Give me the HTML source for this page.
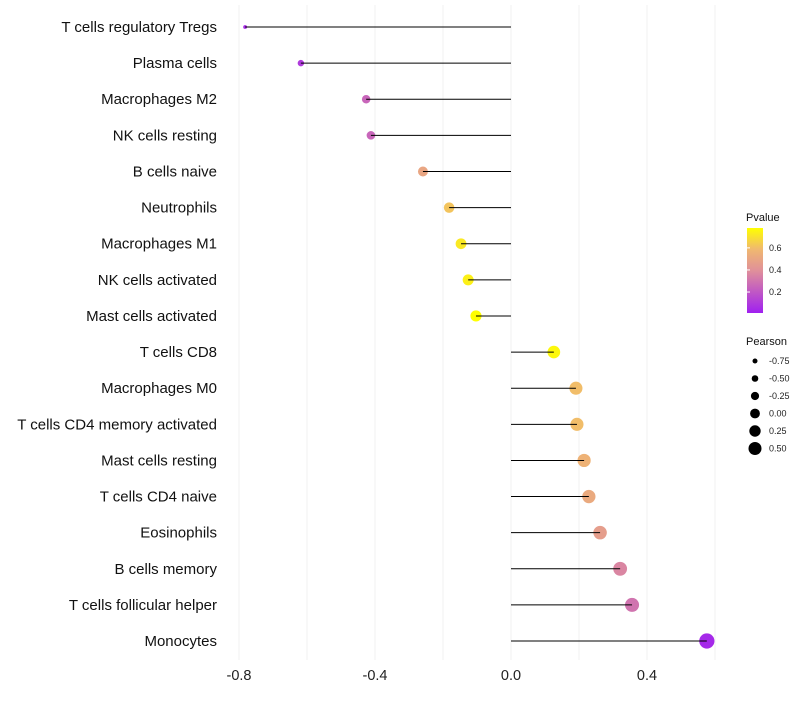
<!DOCTYPE html>
<html><head><meta charset="utf-8"><style>
body{margin:0;background:#fff;font-family:"Liberation Sans",sans-serif}
</style></head><body>
<svg id="c" width="800" height="700" xmlns="http://www.w3.org/2000/svg">
<defs><linearGradient id="pg" x1="0" y1="1" x2="0" y2="0">
<stop offset="0" stop-color="#a020f0"/><stop offset="0.5" stop-color="#e0909a"/><stop offset="0.75" stop-color="#f0b870"/><stop offset="1" stop-color="#ffff00"/>
</linearGradient></defs>
</svg>
<script>
const categories=["T cells regulatory  Tregs","Plasma cells","Macrophages M2","NK cells resting","B cells naive","Neutrophils","Macrophages M1","NK cells activated","Mast cells activated","T cells CD8","Macrophages M0","T cells CD4 memory activated","Mast cells resting","T cells CD4 naive","Eosinophils","B cells memory","T cells follicular helper","Monocytes"];
const pearson=[-0.782,-0.618,-0.426,-0.412,-0.259,-0.182,-0.147,-0.126,-0.103,0.126,0.191,0.194,0.215,0.229,0.262,0.321,0.356,0.576];
const pvalue=[0.05,0.1,0.25,0.25,0.5,0.62,0.72,0.74,0.78,0.76,0.6,0.6,0.56,0.52,0.46,0.36,0.3,0.04];
const xTicks=[-0.8,-0.4,0.0,0.4];
const xTickLabels=["-0.8","-0.4","0.0","0.4"];
const gridVals=[-0.8,-0.6,-0.4,-0.2,0,0.2,0.4,0.6];
const pTicks=[0.2,0.4,0.6];
const sizeLegend=[-0.75,-0.5,-0.25,0,0.25,0.5];
const sizeLegendLabels=["-0.75","-0.50","-0.25","0.00","0.25","0.50"];

const svg=document.getElementById('c');
const NS="http://www.w3.org/2000/svg";
const x=v=>511+v*340;
const y=i=>27+i*36.12;
const r=v=>Math.sqrt(Math.max(3.5,35+40*v));
const rl=v=>4.9+v*3.2;
const pmin=0.01,pmax=0.78;
function lerp(a,b,t){return a.map((c,i)=>Math.round(c+(b[i]-c)*t));}
function col(p){const t=Math.max(0,Math.min(1,(p-pmin)/(pmax-pmin)));
 const S=[[0,[160,32,240]],[0.5,[224,144,154]],[0.75,[240,184,112]],[1,[255,255,0]]];
 for(let k=1;k<S.length;k++){if(t<=S[k][0]){const u=(t-S[k-1][0])/(S[k][0]-S[k-1][0]);return `rgb(${lerp(S[k-1][1],S[k][1],u)})`;}}
 return 'rgb(255,255,0)';}
function el(t,a,txt){const e=document.createElementNS(NS,t);for(const k in a)e.setAttribute(k,a[k]);if(txt!==undefined)e.textContent=txt;svg.appendChild(e);return e;}

gridVals.forEach(g=>{const e=el('line',{x1:x(g),x2:x(g),y1:5,y2:660,stroke:'#f0f0f0','stroke-width':1});

});
xTicks.forEach((t,i)=>{const e=el('text',{x:x(t),y:680,'text-anchor':'middle','font-size':14.5,fill:'#222'},xTickLabels[i]);

});
categories.forEach((c,i)=>{
 const lb=el('text',{x:217,y:y(i)+5,'text-anchor':'end','font-size':15,fill:'#111'},c);
 
 
 const pt=el('circle',{cx:x(pearson[i]),cy:y(i),r:r(pearson[i]),fill:col(pvalue[i])});
 
 
 const ln=el('line',{x1:x(0),x2:x(pearson[i]),y1:y(i),y2:y(i),stroke:'#000','stroke-width':1});
 
 
});
let t=el('text',{x:746,y:221,'font-size':11,fill:'#111'},'Pvalue');


let bar=el('rect',{x:747,y:228,width:16,height:85,fill:'url(#pg)'});


pTicks.forEach(p=>{const yy=313-(p-pmin)/(pmax-pmin)*85;
 const a=el('line',{x1:747,x2:750,y1:yy,y2:yy,stroke:'#fff'});
 
 
 const b=el('text',{x:769,y:yy+3,'font-size':9,fill:'#222'},p.toFixed(1));
 
 });
t=el('text',{x:746,y:345,'font-size':11,fill:'#111'},'Pearson');


sizeLegend.forEach((s,i)=>{const yy=361+i*17.5;
 const c=el('circle',{cx:755,cy:yy,r:rl(s),fill:'#000'});
 
 
 const b=el('text',{x:769,y:yy+3,'font-size':9,fill:'#222'},sizeLegendLabels[i]);
 
 });
</script>
</body></html>
